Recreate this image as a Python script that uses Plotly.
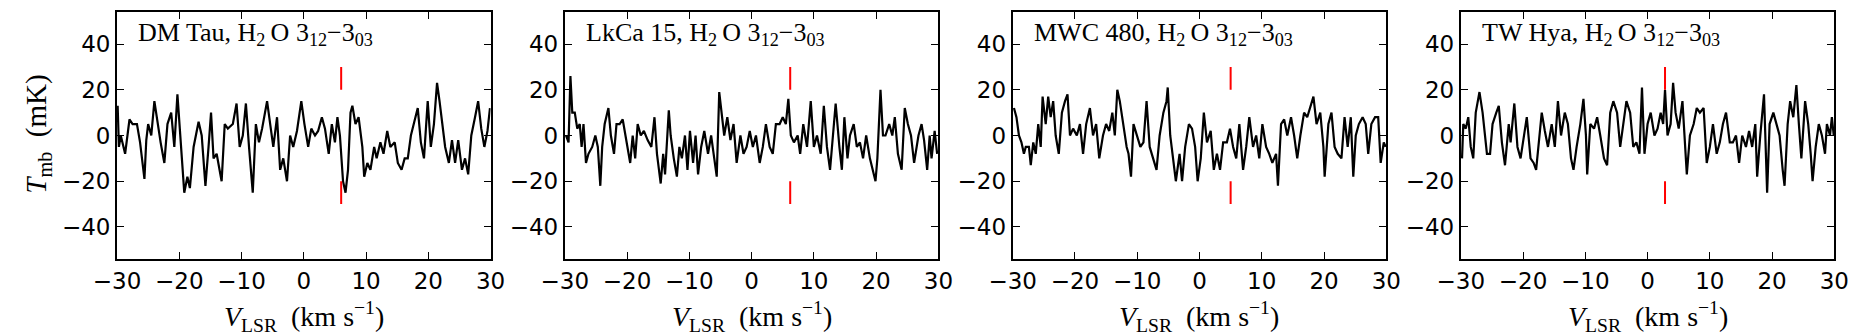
import plotly.graph_objects as go

# ---------------- data ----------------
dm_v = [-29.9,-29.7,-29.4,-28.7,-28.0,-27.5,-26.8,-26.3,-25.6,-25.3,-25.0,-24.5,-24.0,-23.5,-23.0,-22.4,-21.9,-21.3,-20.8,-20.3,
        -19.8,-19.2,-18.7,-18.3,-17.7,-16.9,-16.4,-15.8,-15.3,-14.9,-14.5,-14.0,-13.2,-12.7,-12.2,-11.4,-10.8,-10.3,-9.8,-9.3,
        -8.8,-8.2,-7.7,-7.2,-6.7,-5.9,-5.4,-4.9,-4.3,-3.8,-3.3,-2.7,-2.2,-1.7,-1.1,-0.4,0.1,0.7,1.2,1.8,
        2.3,2.9,3.4,4.0,4.5,5.0,5.4,5.8,6.3,6.7,7.1,7.5,7.8,8.3,8.8,9.4,9.7,10.2,10.7,11.3,
        11.7,12.3,12.8,13.4,13.9,14.6,15.1,15.7,16.2,16.7,17.2,17.7,18.3,18.8,19.3,19.9,20.4,20.9,21.4,21.8,
        22.2,22.7,23.3,23.8,24.3,24.8,25.4,25.9,26.4,26.9,27.5,28.0,28.5,29.0,29.5,29.9]
dm_t = [13,-5,0,-8,7,5,5,-3,-19,-2,5,0,15,5,-3,-12,5,10,-5,18,
        0,-25,-18,-23,-5,6,0,-22,-5,10,-10,-8,-20,5,3,5,14,-5,0,14,
        -5,-25,5,-3,3,15,5,-5,8,-15,-10,-20,0,-5,2,15,5,-5,3,0,
        2,8,3,-8,5,-3,8,0,-20,-25,-15,10,13,5,8,-5,-18,-12,-15,-5,
        -10,-3,-8,2,-5,-3,-12,-15,-10,-10,0,5,12,-3,-10,15,-5,5,23,15,
        5,-5,-12,-2,-12,-2,-15,-10,-17,0,8,15,3,-5,2,12]

lk_v = [-29.8,-29.4,-29.1,-28.8,-28.4,-28.0,-27.6,-27.3,-27.0,-26.6,-26.2,-25.6,-25.1,-24.7,-24.3,-24.0,-23.6,-23.0,-22.6,-22.1,
        -21.7,-21.2,-20.7,-20.3,-19.9,-19.5,-19.1,-18.7,-18.3,-17.8,-17.3,-16.7,-16.1,-15.6,-15.2,-14.6,-14.2,-13.9,-13.3,-13.0,
        -12.5,-12.0,-11.6,-11.2,-10.7,-10.3,-9.9,-9.4,-9.0,-8.6,-8.1,-7.6,-7.0,-6.5,-6.0,-5.6,-5.2,-4.8,-4.4,-3.9,
        -3.4,-2.9,-2.4,-1.8,-1.3,-0.8,-0.3,0.2,0.7,1.3,1.8,2.3,2.9,3.4,3.9,4.5,5.0,5.5,5.9,6.3,
        6.8,7.4,7.8,8.3,8.9,9.5,10.0,10.5,11.1,11.6,12.1,12.6,13.1,13.5,14.1,14.5,14.9,15.4,15.8,16.4,
        16.9,17.4,17.9,18.4,19.0,19.4,19.9,20.2,20.7,21.1,21.5,22.1,22.6,23.0,23.5,24.1,24.6,25.1,25.6,26.1,
        26.8,27.3,27.7,28.2,28.6,28.9,29.4,29.8]
lk_t = [0,-3,26,10,10,3,5,-5,5,-12,-8,-5,0,-5,-22,-5,5,12,0,-8,
        5,5,7,0,-5,-12,0,-10,5,0,2,-2,-5,8,-8,-21,-8,-17,11,0,
        -10,-18,-5,-10,0,-15,2,-12,0,-17,-5,2,-8,0,-10,-18,19,8,0,8,
        -2,5,-12,0,-8,-5,2,-5,0,-12,-5,5,-5,-8,5,5,8,5,16,0,
        -3,0,-8,5,-5,15,-5,0,-8,13,-5,-15,0,14,-5,-15,8,-10,0,5,
        -5,-3,-10,0,-10,-15,-20,-10,20,0,0,5,0,8,-8,-15,12,5,0,-12,
        0,5,-2,-15,0,-10,2,-8]

mwc_v = [-29.8,-29.4,-29.0,-28.6,-28.2,-27.9,-27.4,-27.1,-26.7,-26.3,-25.9,-25.5,-25.2,-24.7,-24.3,-23.9,-23.5,-23.1,-22.6,-22.1,
         -21.6,-21.2,-20.8,-20.3,-19.7,-19.2,-18.7,-18.2,-17.6,-17.1,-16.6,-16.1,-15.5,-15.0,-14.5,-14.0,-13.6,-13.2,-12.8,-12.3,
         -11.7,-11.4,-11.0,-10.6,-10.1,-9.5,-9.0,-8.5,-8.0,-7.4,-6.9,-6.4,-5.8,-5.3,-5.1,-4.7,-4.3,-3.8,-3.2,-2.8,
         -2.3,-1.7,-1.2,-0.7,-0.3,0.2,0.7,1.2,1.8,2.3,2.8,3.3,3.8,4.4,4.9,5.4,5.9,6.4,7.0,7.5,
         8.0,8.6,9.1,9.6,10.1,10.7,11.2,11.7,12.3,12.6,13.1,13.6,14.1,14.7,15.2,15.7,16.2,16.8,17.3,17.8,
         18.3,18.8,19.4,19.9,20.1,20.7,21.2,21.7,22.2,22.8,23.3,23.8,24.3,24.7,25.1,25.6,26.2,26.7,27.1,27.6,
         28.2,28.7,29.1,29.6,29.9]
mwc_t = [12,8,0,-3,-8,-5,-5,-13,-3,-8,5,-5,17,5,17,8,15,0,-8,10,
         15,18,0,3,0,5,-8,5,12,0,5,-10,0,5,2,10,0,20,15,5,
         -5,-8,-18,5,0,-5,-3,15,-5,-10,-15,0,10,15,21,0,-10,-20,-8,-20,
         -5,5,3,-5,-20,-10,10,-3,2,-15,-8,-15,-3,-3,3,-5,-10,5,-15,-5,
         8,-5,0,-10,5,-5,-8,-12,-8,-22,5,7,0,8,0,-10,0,10,8,12,
         17,5,10,-5,-18,5,10,-5,-8,-10,8,-5,8,-18,0,5,8,5,-8,5,
         8,8,-12,-3,-5]

tw_v = [-29.8,-29.6,-29.2,-28.8,-28.4,-28.0,-27.6,-27.2,-27.0,-26.5,-26.2,-25.8,-25.3,-24.9,-24.3,-23.9,-23.4,-22.9,-22.3,-22.0,
        -21.4,-20.9,-20.4,-19.9,-19.4,-18.8,-18.3,-17.9,-17.5,-17.0,-16.5,-16.0,-15.4,-14.9,-14.4,-13.9,-13.3,-12.8,-12.3,-11.9,
        -11.4,-10.8,-10.3,-9.9,-9.7,-9.2,-8.6,-8.1,-7.6,-7.0,-6.5,-6.0,-5.5,-4.9,-4.4,-3.9,-3.4,-2.8,-2.3,-1.8,
        -1.3,-0.9,-0.5,0.0,0.5,1.1,1.6,2.1,2.5,2.8,3.2,3.7,4.1,4.5,5.0,5.6,6.1,6.3,6.8,7.4,
        7.9,8.4,9.0,9.5,10.0,10.5,11.1,11.6,12.1,12.6,13.2,13.7,14.2,14.7,15.2,15.8,16.3,16.8,17.3,17.6,
        18.1,18.7,19.2,19.6,20.2,20.7,21.2,21.7,22.0,22.5,22.9,23.4,23.9,24.3,24.7,25.3,25.8,26.2,26.5,27.0,
        27.5,28.0,28.5,28.8,29.3,29.6,29.9]
tw_t = [-10,5,3,8,-5,-10,10,15,19,10,3,-8,-8,5,10,13,-3,-13,5,-3,
        14,-5,-10,0,8,-10,-12,-15,-5,10,2,-5,5,-5,15,0,10,5,-10,-15,
        -5,5,16,0,-17,5,3,8,0,-10,-13,10,15,10,-5,5,15,10,-5,-3,
        -8,21,-8,5,10,0,3,10,5,20,0,5,23,10,3,15,-10,-17,0,5,
        12,10,12,-12,-5,5,-8,-3,5,10,-3,-3,0,-12,0,-5,2,-5,5,-18,
        0,18,-25,5,10,5,0,-15,-22,5,15,8,22,5,-10,15,5,-8,-20,-5,
        5,0,-8,5,0,8,0]

sources = ["DM Tau", "LkCa 15", "MWC 480", "TW Hya"]
v_sys = [6.0, 6.2, 5.0, 2.8]
marker_hi = [20, 30]
marker_lo = [-20, -30]

x_tickvals = [-30, -20, -10, 0, 10, 20, 30]
x_ticktext = ["\u221230", "\u221220", "\u221210", "0", "10", "20", "30"]
y_tickvals = [-40, -20, 0, 20, 40]
y_ticktext = ["\u221240", "\u221220", "0", "20", "40"]

# ---------------- figure ----------------
W, H = 1876, 336
panel_left_px = [95, 552.3, 1009.7, 1467.3]
panel_w_px = 381.5
top_px, bot_px = 12, 259

spectra = [(dm_v, dm_t), (lk_v, lk_t), (mwc_v, mwc_t), (tw_v, tw_t)]

fig = go.Figure()
layout = dict(
    width=W, height=H,
    margin=dict(l=0, r=0, t=0, b=0),
    paper_bgcolor="white", plot_bgcolor="white",
    showlegend=False,
)
annotations = []
ydom = [(H - bot_px) / H, (H - top_px) / H]
serif = "Liberation Serif"

for i, ((v, t), src, vs) in enumerate(zip(spectra, sources, v_sys)):
    k = "" if i == 0 else str(i + 1)
    xa, ya = "x" + k, "y" + k
    fig.add_trace(go.Scatter(x=v, y=t, mode="lines", line=dict(color="black", width=2.2),
                             xaxis=xa, yaxis=ya, hoverinfo="skip"))
    fig.add_trace(go.Scatter(x=[vs, vs, None, vs, vs], y=marker_hi + [None] + marker_lo, mode="lines",
                             line=dict(color="red", width=2), xaxis=xa, yaxis=ya, hoverinfo="skip"))
    x0 = panel_left_px[i] / W
    x1 = (panel_left_px[i] + panel_w_px) / W
    layout["xaxis" + k] = dict(
        domain=[x0, x1], anchor=ya, range=[-30, 30],
        tickmode="array", tickvals=x_tickvals, ticktext=x_ticktext,
        ticks="inside", ticklen=7, tickwidth=1, tickcolor="black",
        showline=True, linecolor="black", linewidth=2, mirror="allticks",
        showgrid=False, zeroline=False,
        tickfont=dict(family="DejaVu Sans", size=23, color="black"),
    )
    layout["yaxis" + k] = dict(
        domain=ydom, anchor=xa, range=[-54, 54],
        tickmode="array", tickvals=y_tickvals, ticktext=y_ticktext,
        ticks="inside", ticklen=7, tickwidth=1, tickcolor="black",
        showline=True, linecolor="black", linewidth=2, mirror="allticks",
        showgrid=False, zeroline=False,
        tickfont=dict(family="DejaVu Sans", size=23, color="black"),
    )
    annotations.append(dict(
        xref=xa + " domain", yref=ya + " domain", x=0.052, y=0.985, xanchor="left", yanchor="top",
        text=src + ", H<sub>2</sub>\u2009O 3<sub>12</sub>\u22123<sub>03</sub>", showarrow=False,
        font=dict(family=serif, size=26, color="black"),
    ))
    annotations.append(dict(
        xref=xa + " domain", yref="paper", x=0.5, y=(H - 316) / H, xanchor="center", yanchor="middle",
        text="<i>V</i><sub>LSR</sub>\u2002(km s<sup>\u22121</sup>)", showarrow=False,
        font=dict(family=serif, size=28, color="black"),
    ))

annotations.append(dict(
    xref="paper", yref="paper", x=14 / W, y=(H - 134) / H, xanchor="center", yanchor="middle",
    text="<i>T</i><sub>mb</sub>\u2002(mK)", textangle=-90, showarrow=False,
    font=dict(family=serif, size=29, color="black"),
))
layout["annotations"] = annotations
fig.update_layout(**layout)
fig.write_html("out.html")
